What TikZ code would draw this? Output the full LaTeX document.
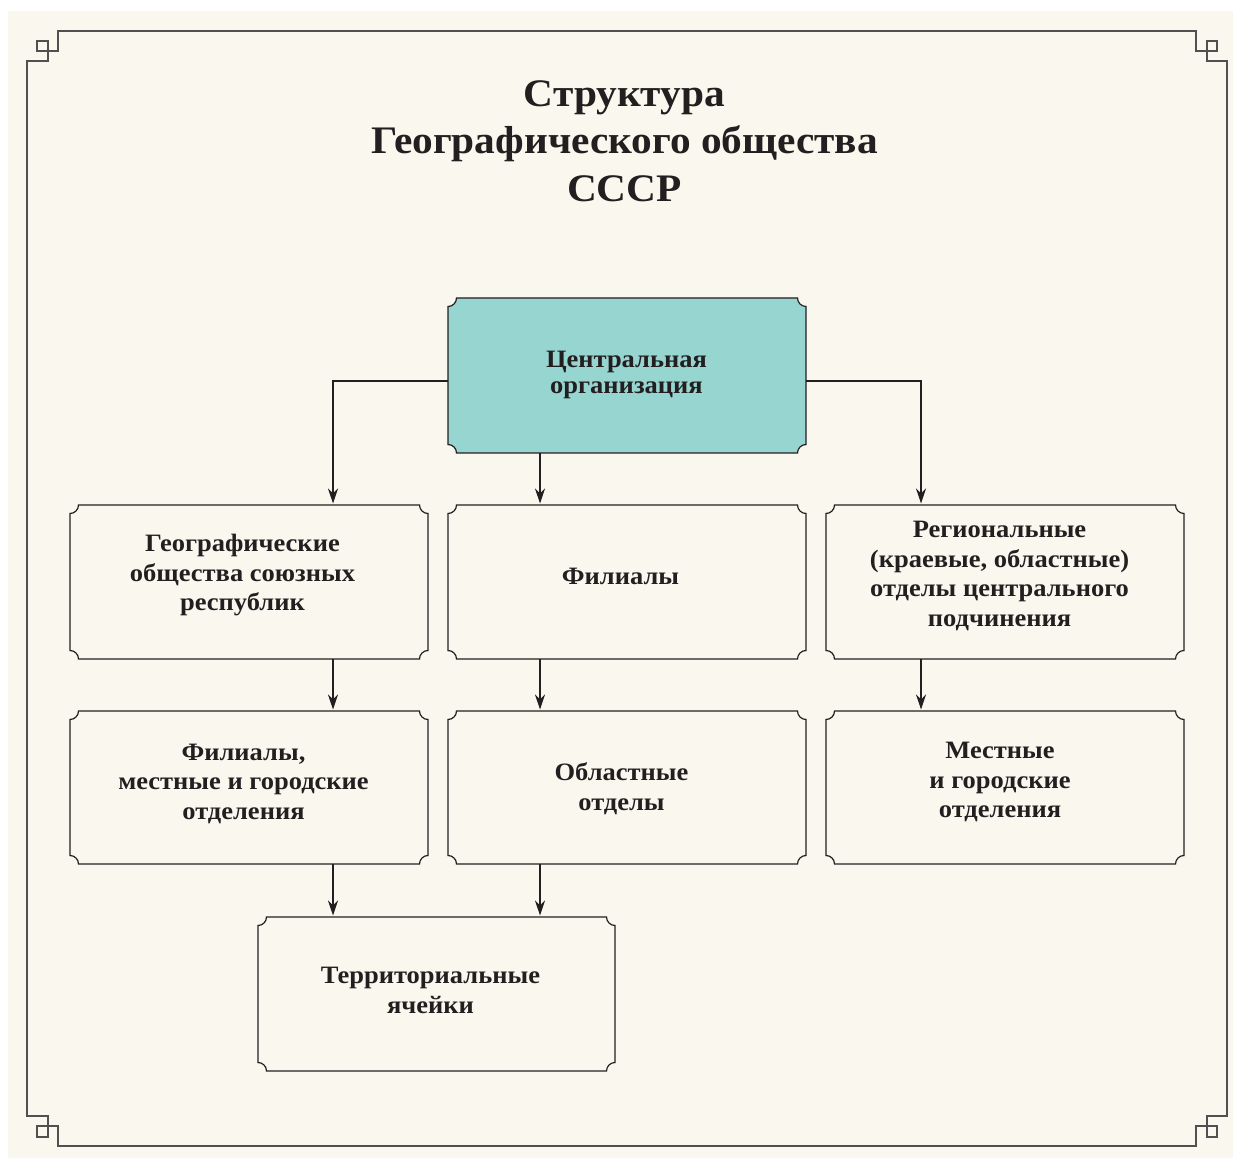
\documentclass[tikz,border=0pt]{standalone}
\usepackage{fontspec}
\newfontfamily\bsf{Liberation Serif}[FakeStretch=1.06]
\usetikzlibrary{arrows.meta,calc}
\definecolor{bg}{RGB}{250,247,239}
\definecolor{tealbox}{RGB}{151,213,209}
\definecolor{ink}{RGB}{35,31,32}
\definecolor{frm}{RGB}{80,80,80}
\newlength\crad \setlength\crad{8.5pt}
\newcommand\cornerbox[2][]{%
  \draw[boxline,#1] ([xshift=\crad]#2.north west) -- ([xshift=-\crad]#2.north east)
    arc[start angle=180,end angle=270,radius=\crad]
    -- ([yshift=\crad]#2.south east)
    arc[start angle=90,end angle=180,radius=\crad]
    -- ([xshift=\crad]#2.south west)
    arc[start angle=0,end angle=90,radius=\crad]
    -- ([yshift=-\crad]#2.north west)
    arc[start angle=270,end angle=360,radius=\crad] -- cycle;}
\tikzset{
  box/.style={minimum width=358pt,minimum height=154pt,inner sep=0pt,outer sep=0pt},
  boxline/.style={draw=ink,line width=1.2pt},
  txt/.style={align=center,text=ink,font=\bsf\bfseries\fontsize{25}{29.5}\selectfont,inner sep=0pt},
  ttl/.style={align=center,text=ink,font=\bsf\bfseries\fontsize{39}{47.5}\selectfont,inner sep=0pt},
  arr/.style={draw=ink,line width=1.2pt,-{Stealth[length=15pt,width=10pt,inset=5pt]},shorten >=1.5pt},
  frame/.style={draw=frm,line width=1.2pt}
}
\begin{document}
\begin{tikzpicture}[x=1pt,y=1pt]
\useasboundingbox (0,0) rectangle (1233,1160);
\fill[white] (0,0) rectangle (1233,1160);
\fill[bg] (8,2) rectangle (1233,1149);
% frame
\draw[frame] (27,44) -- (27,1099) -- (48,1099) -- (48,1109) -- (58,1109) -- (58,1129)
  -- (1196,1129) -- (1196,1109) -- (1207,1109) -- (1207,1099) -- (1227,1099)
  -- (1227,44) -- (1207,44) -- (1207,34) -- (1196,34) -- (1196,14)
  -- (58,14) -- (58,34) -- (48,34) -- (48,44) -- cycle;
\draw[frame] (37,1109) rectangle (48,1119);
\draw[frame] (1207,1109) rectangle (1217,1119);
\draw[frame] (1207,23) rectangle (1217,34);
\draw[frame] (37,23) rectangle (48,34);
% title
\node[ttl] (title) at (624.5,1019) {Структура\\Географического общества\\СССР};
% boxes
\node[box,minimum height=155pt] (c) at (627,784.5) {};
\node[box] (gl) at (249,578) {};
\node[box] (gm) at (627,578) {};
\node[box] (gr) at (1005,578) {};
\node[box,minimum height=153pt] (ml) at (249,372.5) {};
\node[box,minimum height=153pt] (mm) at (627,372.5) {};
\node[box,minimum height=153pt] (mr) at (1005,372.5) {};
\node[box,minimum width=357pt] (t) at (436.5,166) {};
\cornerbox[fill=tealbox]{c}
\cornerbox{gl}
\cornerbox{gm}
\cornerbox{gr}
\cornerbox{ml}
\cornerbox{mm}
\cornerbox{mr}
\cornerbox{t}
% texts
\node[txt,font=\bsf\bfseries\fontsize{25}{26}\selectfont] (tc) at ($(c)+(-0.5,0.5)$) {Центральная\\организация};
\node[txt] (tgl) at ($(gl)+(-6.5,6.5)$) {Географические\\общества союзных\\республик};
\node[txt] (tgm) at ($(gm)+(-6.5,6)$) {Филиалы};
\node[txt] (tgr) at ($(gr)+(-5.5,6)$) {Региональные\\(краевые, областные)\\отделы центрального\\подчинения};
\node[txt] (tml) at ($(ml)+(-5.5,4)$) {Филиалы,\\местные и городские\\отделения};
\node[txt] (tmm) at ($(mm)+(-5.5,-1)$) {Областные\\отделы};
\node[txt] (tmr) at ($(mr)+(-5,5.5)$) {Местные\\и городские\\отделения};
\node[txt] (tt) at ($(t)+(-6,3.5)$) {Территориальные\\ячейки};
% connectors
\draw[arr] ([yshift=-5.5pt]c.west) -| ([xshift=84pt]gl.north);
\draw[arr] ([yshift=-5.5pt]c.east) -| ([xshift=-84pt]gr.north);
\draw[arr] ([xshift=-87pt]c.south) -- ([xshift=-87pt]gm.north);
\draw[arr] ([xshift=84pt]gl.south) -- ([xshift=84pt]ml.north);
\draw[arr] ([xshift=-87pt]gm.south) -- ([xshift=-87pt]mm.north);
\draw[arr] ([xshift=-84pt]gr.south) -- ([xshift=-84pt]mr.north);
\draw[arr] ([xshift=84pt]ml.south) -- ([xshift=84pt]ml.south |- t.north);
\draw[arr] ([xshift=-87pt]mm.south) -- ([xshift=-87pt]mm.south |- t.north);
\end{tikzpicture}
\end{document}
